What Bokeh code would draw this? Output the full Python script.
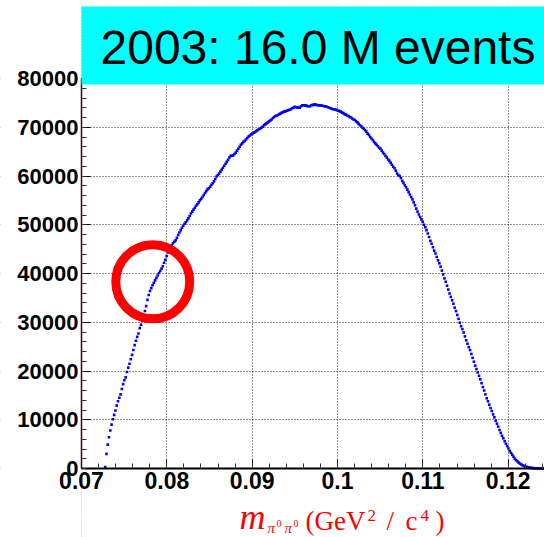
import numpy as np
from bokeh.plotting import figure
from bokeh.models import (BoxAnnotation, Label, SingleIntervalTicker, CustomJSTickFormatter,
                          NumeralTickFormatter, Range1d, ColumnDataSource, LinearAxis, Grid)
from bokeh.embed import file_html
from bokeh.resources import INLINE

# ---------------- data (histogram of m_{pi0 pi0}) ----------------
BIN_LOW = 0.07
BIN_WIDTH = 0.00015
FIRST_BIN = 18
counts = [
    300, 3000, 4900, 6400, 7800, 9000, 10100, 11000, 11900, 12900,
    13800, 14500, 15200, 16300, 17300, 18100, 18700, 19800, 20700, 21500,
    22400, 23300, 24300, 25300, 26200, 27000, 27700, 28800, 29500, 30300,
    31400, 32300, 33300, 34600, 35600, 36400, 37000, 37600, 38100, 38600,
    39100, 39600, 40100, 40500, 41000, 41500, 42200, 42800, 43600, 44300,
    44900, 45400, 45800, 46200, 46500, 46800, 47300, 47900, 48400, 48900,
    49400, 49800, 50200, 50500, 50900, 51300, 51800, 52300, 52700, 53100,
    53500, 53900, 54200, 54600, 55000, 55300, 55700, 56100, 56500, 56900,
    57300, 57500, 57800, 58200, 58500, 58900, 59400, 59900, 60200, 60500,
    60900, 61300, 61700, 62100, 62500, 62900, 63300, 63800, 64100, 64200,
    64200, 64500, 64800, 65200, 65600, 66000, 66400, 66700, 67000, 67200,
    67500, 67800, 68100, 68300, 68500, 68700, 68900, 69000, 69200, 69400,
    69600, 69700, 69900, 70100, 70400, 70600, 70800, 71000, 71200, 71400,
    71600, 71900, 72100, 72300, 72400, 72500, 72700, 72800, 73000, 73100,
    73200, 73300, 73400, 73500, 73600, 73700, 73900, 74000, 74200, 74100,
    74000, 74100, 74000, 74300, 74500, 74500, 74400, 74500, 74300, 74300,
    74300, 74500, 74600, 74600, 74700, 74600, 74500, 74500, 74500, 74400,
    74400, 74300, 74300, 74200, 74100, 74000, 73900, 73800, 73700, 73700,
    73600, 73500, 73400, 73300, 73200, 73000, 72900, 72700, 72600, 72400,
    72300, 72100, 72000, 71800, 71600, 71500, 71200, 71000, 70700, 70400,
    70200, 69900, 69700, 69400, 69100, 68700, 68400, 68000, 67700, 67400,
    67000, 66700, 66400, 66100, 65800, 65600, 65200, 64800, 64500, 64100,
    63800, 63400, 63100, 62700, 62300, 61900, 61600, 61100, 60500, 60200,
    60000, 59600, 59000, 58600, 58100, 57700, 57200, 56700, 56200, 55700,
    55200, 54600, 54000, 53300, 52700, 52100, 51600, 51100, 50600, 50000,
    49500, 48900, 48200, 47500, 46700, 46100, 45400, 44700, 44100, 43400,
    42700, 42100, 41400, 40600, 39800, 39000, 38300, 37500, 36700, 35900,
    35200, 34500, 33800, 33000, 32300, 31500, 30700, 29900, 29200, 28600,
    27900, 27100, 26300, 25600, 24900, 24300, 23500, 22700, 21900, 21100,
    20400, 19700, 19000, 18300, 17500, 16700, 16000, 15200, 14400, 13800,
    13100, 12400, 11800, 11100, 10500, 9800, 9200, 8600, 7900, 7300,
    6700, 6200, 5600, 5100, 4600, 4100, 3600, 3200, 2800, 2400,
    2000, 1700, 1450, 1200, 1000, 820, 680, 540, 440, 350,
    270, 210, 160, 120, 90, 60, 40, 30, 20, 10,
    5, 0, 0,
]
title_text = "2003: 16.0 M events"
x_axis_start = 0.07
x_tick_step = 0.01
y_tick_step = 10000
y_axis_top = 80000
highlight_mass = 0.07835
highlight_count = 38300

bin_index = np.arange(FIRST_BIN, FIRST_BIN + len(counts))
centers = BIN_LOW + (bin_index + 0.5) * BIN_WIDTH

# ---------------- layout (page pixels) ----------------
W, H = 544, 537
AXIS_LEFT_PX = 81             # page column of x = 0.07
ZERO_PX = 468                 # page row of y = 0
BOX_TOP_PX, BOX_BOTTOM_PX = 6, 84
PX_PER_X = 8535.0             # pixels per unit of mass
PX_PER_Y = 390.0 / y_axis_top  # pixels per count
X_START = x_axis_start - AXIS_LEFT_PX / PX_PER_X
X_END = x_axis_start + (W - AXIS_LEFT_PX) / PX_PER_X
Y_START = -(H - ZERO_PX) / PX_PER_Y
Y_END = ZERO_PX / PX_PER_Y
MID = 0.39  # baseline -> middle offset (fraction of font size)


def px_x(page_x):
    return x_axis_start + (page_x - AXIS_LEFT_PX) / PX_PER_X


def px_y(page_y):
    return (ZERO_PX - page_y) / PX_PER_Y


p = figure(width=W, height=H, output_backend="svg", toolbar_location=None,
           x_range=Range1d(X_START, X_END), y_range=Range1d(Y_START, Y_END),
           x_axis_type=None, y_axis_type=None,
           min_border_left=0, min_border_right=0, min_border_top=0,
           min_border_bottom=0)
p.outline_line_color = None
p.background_fill_color = "white"
p.border_fill_color = "white"

# grids
xgrid = Grid(dimension=0, ticker=SingleIntervalTicker(interval=x_tick_step))
ygrid = Grid(dimension=1, ticker=SingleIntervalTicker(interval=y_tick_step),
             bounds=(0, y_axis_top))
for g in (xgrid, ygrid):
    g.grid_line_color = "black"
    g.grid_line_dash = "1 2"
    g.grid_line_width = 1
    g.grid_line_alpha = 0.85
    p.add_layout(g)

# x axis drawn at y = 0
xa = LinearAxis(fixed_location=0, bounds=(x_axis_start, X_END))
p.add_layout(xa, "below")
xa.ticker = SingleIntervalTicker(interval=x_tick_step, num_minor_ticks=5)
xa.formatter = CustomJSTickFormatter(code="return String(Math.round(tick*100)/100);")
xa.axis_line_width = 2
xa.axis_line_color = "black"
xa.major_tick_in = 9
xa.major_tick_out = 0
xa.minor_tick_in = 5
xa.minor_tick_out = 0
xa.major_tick_line_color = "black"
xa.minor_tick_line_color = "#333333"
xa.major_label_text_font = "Liberation Sans"
xa.major_label_text_font_style = "bold"
xa.major_label_text_font_size = "23px"
xa.major_label_text_color = "black"
xa.major_label_standoff = 3

# y axis drawn at x = 0.07
ya = LinearAxis(fixed_location=x_axis_start, bounds=(0, y_axis_top))
p.add_layout(ya, "left")
ya.ticker = SingleIntervalTicker(interval=y_tick_step, num_minor_ticks=5)
ya.formatter = NumeralTickFormatter(format="0")
ya.axis_line_width = 1.5
ya.axis_line_color = "#3a0a0a"
ya.major_tick_in = 9
ya.major_tick_out = 0
ya.minor_tick_in = 5
ya.minor_tick_out = 0
ya.major_tick_line_color = "black"
ya.minor_tick_line_color = "#333333"
ya.major_label_text_font = "Liberation Sans"
ya.major_label_text_font_style = "bold"
ya.major_label_text_font_size = "22px"
ya.major_label_text_color = "black"
ya.major_label_standoff = 3

# white bands outside the plotting area (hide grid lines there)
p.quad(left=[X_START, x_axis_start, x_axis_start],
       right=[x_axis_start, X_END, X_END],
       bottom=[Y_START, Y_START, px_y(BOX_TOP_PX)],
       top=[Y_END, 0, Y_END],
       fill_color="white", line_color=None)

# data points
src = ColumnDataSource(data=dict(x=centers, y=counts))
p.scatter("x", "y", source=src, marker="square", size=2.6,
          fill_color="#0000ff", line_color=None)

# highlight ring
p.scatter(x=[highlight_mass], y=[highlight_count], marker="circle", size=74,
          fill_color=None, line_color="#ff0000", line_width=9)

# title box
p.add_layout(BoxAnnotation(left=x_axis_start, bottom=px_y(BOX_BOTTOM_PX),
                           top=px_y(BOX_TOP_PX), fill_color="#00ffff",
                           fill_alpha=1.0, line_color=None))
p.add_layout(Label(x=px_x(100), y=px_y(66 - MID * 48), text=title_text, text_align="left",
                   text_baseline="middle", text_font="Liberation Sans",
                   text_font_size="48px", text_color="black"))

# x-axis title pieces
red = "#ff0000"
serif = "Liberation Serif"
pieces = [
    ("m", 239, 531, 36, "italic"),
    ("\u03c0", 267, 533, 15, "italic"),
    ("0", 276, 527, 10, "normal"),
    ("\u03c0", 284, 533, 15, "italic"),
    ("0", 293, 527, 10, "normal"),
    ("(GeV", 305, 531, 27, "normal"),
    ("2", 367, 522, 17, "normal"),
    ("/", 386, 531, 27, "normal"),
    ("c", 405, 531, 27, "normal"),
    ("4", 420, 522, 17, "normal"),
    (")", 435, 531, 27, "normal"),
]
for txt, xx, yy, fs, st in pieces:
    p.add_layout(Label(x=px_x(xx), y=px_y(yy - MID * fs), text=txt, text_align="left",
                       text_baseline="middle", text_font=serif,
                       text_font_size=f"{fs}px", text_font_style=st, text_color=red))

open("out.html", "w").write(file_html(p, INLINE))
